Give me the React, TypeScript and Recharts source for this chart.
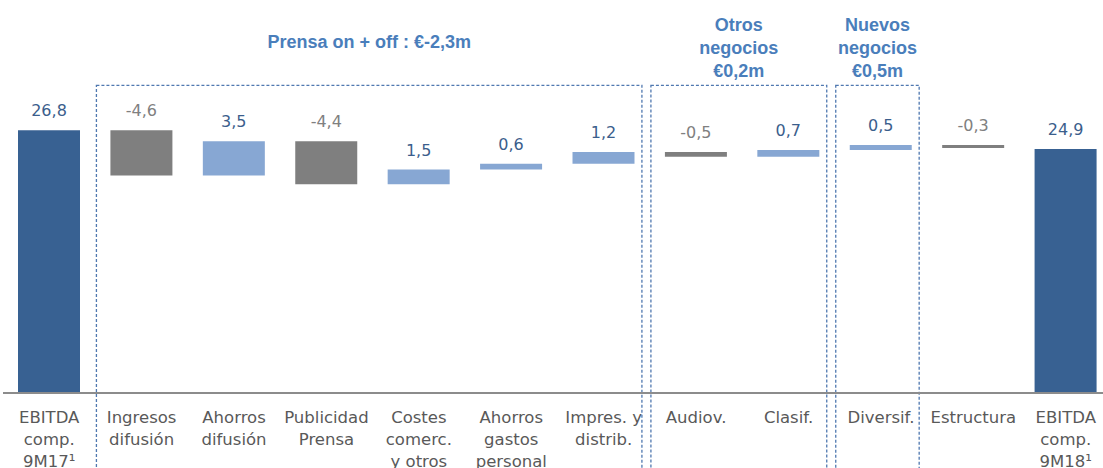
import React from "react";
import {
  BarChart,
  Bar,
  XAxis,
  YAxis,
  Cell,
  LabelList,
  ReferenceArea,
} from "recharts";

// categories (x axis), one line per "\n"
const categories = [
  "EBITDA\ncomp.\n9M17¹",
  "Ingresos\ndifusión",
  "Ahorros\ndifusión",
  "Publicidad\nPrensa",
  "Costes\ncomerc.\ny otros",
  "Ahorros\ngastos\npersonal",
  "Impres. y\ndistrib.",
  "Audiov.",
  "Clasif.",
  "Diversif.",
  "Estructura",
  "EBITDA\ncomp.\n9M18¹",
];

// EBITDA bridge, €m
const values = [26.8, -4.6, 3.5, -4.4, 1.5, 0.6, 1.2, -0.5, 0.7, 0.5, -0.3, 24.9];
const isTotal = [true, false, false, false, false, false, false, false, false, false, false, true];

// dashed groups: first and last category index, title lines
const groupStart = [1, 7, 9];
const groupEnd = [6, 8, 9];
const groupTitles = [
  ["Prensa on + off : €-2,3m"],
  ["Otros", "negocios", "€0,2m"],
  ["Nuevos", "negocios", "€0,5m"],
];

const DARK = "#386192";
const LIGHT = "#87a7d3";
const GREY = "#7f7f7f";
const TITLE = "#4a7ebb";
const FONT = "'DejaVu Sans', sans-serif";

const rows = (() => {
  let run = 0;
  return categories.map((name, i) => {
    const v = values[i];
    let base = 0;
    let size = v;
    if (isTotal[i]) {
      run = v;
    } else if (v >= 0) {
      base = run;
      run += v;
    } else {
      run += v;
      base = run;
      size = -v;
    }
    return {
      name,
      base,
      size,
      label: v.toFixed(1).replace(".", ","),
      color: isTotal[i] ? DARK : v >= 0 ? LIGHT : GREY,
    };
  });
})();

const CategoryTick = (props: any) => {
  const { x, y, payload } = props;
  const lines = String(payload.value).split("\n");
  return (
    <text
      x={x}
      y={y}
      textAnchor="middle"
      fill="#595959"
      fontFamily={FONT}
      fontSize={16.5}
    >
      {lines.map((l, i) => (
        <tspan key={i} x={x} dy={i === 0 ? 30 : 22}>
          {l}
        </tspan>
      ))}
    </text>
  );
};

const ValueLabel = (props: any) => {
  const { x, y, width, value } = props;
  const neg = String(value).startsWith("-");
  return (
    <text
      x={x + width / 2}
      y={y - 14}
      textAnchor="middle"
      fill={neg ? "#808080" : "#3b5e8c"}
      fontFamily={FONT}
      fontSize={16}
    >
      {value}
    </text>
  );
};

const GroupBox = (props: any) => {
  const { x, y, width, height, title } = props;
  const left = x + 1;
  const right = x + width - 8;
  const cx = (left + right) / 2;
  const firstY = title.length === 1 ? 48 : 31;
  return (
    <g>
      <rect
        x={left}
        y={y}
        width={right - left}
        height={height}
        fill="none"
        stroke="#4f78b0"
        strokeWidth={1.3}
        strokeDasharray="3 2"
      />
      <text
        textAnchor="middle"
        fill={TITLE}
        fontFamily="'Liberation Sans', Arial, sans-serif"
        fontWeight="bold"
        fontSize={18}
      >
        {title.map((t: string, i: number) => (
          <tspan key={i} x={cx} y={firstY + i * 23}>
            {t}
          </tspan>
        ))}
      </text>
    </g>
  );
};

export default function App() {
  return (
    <div
      style={{
        position: "absolute",
        left: 0,
        top: 0,
        width: 1103,
        height: 468,
        overflow: "hidden",
        background: "#fff",
      }}
    >
      <BarChart
        width={1112}
        height={468}
        data={rows}
        margin={{ top: 99, right: 0, left: 3, bottom: 0 }}
        barSize={62}
      >
        <XAxis
          dataKey="name"
          interval={0}
          height={75}
          tickLine={false}
          tickSize={0}
          tickMargin={0}
          axisLine={{ stroke: "#8c8c8c", strokeWidth: 2 }}
          tick={<CategoryTick />}
        />
        <YAxis hide domain={[0, 30]} />
        {groupTitles.map((title, g) => (
          <ReferenceArea
            key={g}
            x1={categories[groupStart[g]]}
            x2={categories[groupEnd[g]]}
            y1={-12}
            y2={31.4}
            ifOverflow="visible"
            shape={(p: any) => <GroupBox {...p} title={title} />}
          />
        ))}
        <Bar dataKey="base" stackId="w" fill="transparent" fillOpacity={0} isAnimationActive={false} />
        <Bar dataKey="size" stackId="w" isAnimationActive={false}>
          {rows.map((r, i) => (
            <Cell key={i} fill={r.color} />
          ))}
          <LabelList dataKey="label" content={<ValueLabel />} />
        </Bar>
      </BarChart>
    </div>
  );
}
